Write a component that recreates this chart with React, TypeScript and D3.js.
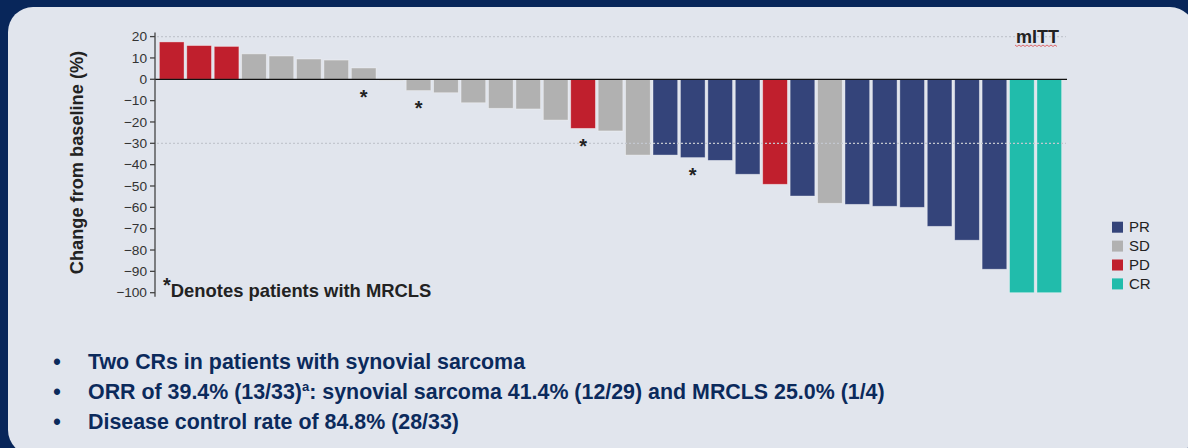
import React from 'react';
import * as d3 from 'd3';

const values = [17.5, 15.8, 15.4, 11.9, 10.9, 9.5, 9.0, 5.3, -0.5, -5.3, -6.3, -11.0, -13.6, -13.9, -19.1, -23.0, -24.2, -35.5, -35.5, -36.7, -38.0, -44.5, -49.2, -54.7, -58.1, -58.6, -59.5, -60.0, -68.9, -75.4, -89.0, -100, -100];
const responses = ['PD', 'PD', 'PD', 'SD', 'SD', 'SD', 'SD', 'SD', 'SD', 'SD', 'SD', 'SD', 'SD', 'SD', 'SD', 'PD', 'SD', 'SD', 'PR', 'PR', 'PR', 'PR', 'PD', 'PR', 'SD', 'PR', 'PR', 'PR', 'PR', 'PR', 'PR', 'CR', 'CR'];
const mrclsPatients = [8, 10, 16, 20];
const yTicks = [20, 10, 0, -10, -20, -30, -40, -50, -60, -70, -80, -90, -100];
const gridValues = [20, -30];
const legendKeys = ['PR', 'SD', 'PD', 'CR'];
const colors: Record<string, string> = { PR: '#34447a', SD: '#b1b1b1', PD: '#c01f2d', CR: '#21bcab' };
const bullets = [
  'Two CRs in patients with synovial sarcoma',
  'ORR of 39.4% (13/33)',
  'Disease control rate of 84.8% (28/33)',
];

const FONT = '"Liberation Sans", Arial, sans-serif';
const NAVY = '#0b2a5c';

export default function App() {
  const ids = values.map((_, i) => i + 1);
  const x = d3.scaleBand<number>().domain(ids).range([158, 1063]).paddingInner(0.1).paddingOuter(0.05);
  const y = d3.scaleLinear().domain([-100, 20]).range([292.7, 36.6]);
  const fmt = d3.format('d');

  return (
    <svg width={1188} height={448} style={{ position: 'absolute', left: 0, top: 0, display: 'block' }} fontFamily={FONT}>
      <rect x={0} y={0} width={1188} height={448} fill="#08265a" />
      <rect x={8} y={7} width={1187} height={448} rx={25} ry={25} fill="#e1e5ed" />

      {/* bars */}
      {values.map((v, i) => {
        const id = i + 1;
        const y0 = y(Math.max(0, v));
        const y1 = y(Math.min(0, v));
        return (
          <rect key={id} x={x(id)} y={y0} width={x.bandwidth()} height={Math.max(1, y1 - y0)}
            fill={colors[responses[i]]} stroke="rgba(255,255,255,0.45)" strokeWidth={0.8} />
        );
      })}

      {/* gridlines */}
      {gridValues.map((g) => (
        <line key={g} x1={157} x2={1066} y1={y(g)} y2={y(g)} stroke="#c3c7cf" strokeWidth={1.2} strokeDasharray="2,2" />
      ))}

      {/* zero line */}
      <line x1={155} x2={1067} y1={y(0)} y2={y(0)} stroke="#111" strokeWidth={1.3} />

      {/* y axis */}
      <line x1={155} x2={155} y1={y(20) - 4} y2={y(-100) + 4} stroke="#444" strokeWidth={1.3} />
      {yTicks.map((t) => (
        <g key={t}>
          <line x1={150} x2={155} y1={y(t)} y2={y(t)} stroke="#444" strokeWidth={1.3} />
          <text x={147} y={y(t)} dy="0.35em" textAnchor="end" fontSize={13.7} fill="#333">{fmt(t)}</text>
        </g>
      ))}
      <text transform={`translate(83,${162.5}) rotate(-90)`} textAnchor="middle" fontSize={18.2} fontWeight="bold" fill="#222">
        Change from baseline (%)
      </text>

      {/* asterisks */}
      {mrclsPatients.map((id) => {
        const v = values[id - 1];
        const cy = y(Math.min(0, v)) + 14;
        return (
          <text key={id} x={(x(id) || 0) + x.bandwidth() / 2} y={cy + 10.5} textAnchor="middle" fontSize={20} fontWeight="bold" fill="#222">*</text>
        );
      })}

      {/* footnote */}
      <text x={163} y={296.5} fontSize={18.4} fontWeight="bold" fill="#222">
        <tspan fontSize={20} dy={-5}>*</tspan>
        <tspan dy={5}>Denotes patients with MRCLS</tspan>
      </text>

      {/* mITT */}
      <text x={1059} y={43} textAnchor="end" fontSize={18} fontWeight="bold" fill="#222">mITT</text>
      <path d={d3.range(0, 22).map((k) => `${k === 0 ? 'M' : 'L'}${1015 + k * 2},${k % 2 === 0 ? 45 : 46.5}`).join(' ')}
        fill="none" stroke="#d33" strokeWidth={0.7} />

      {/* legend */}
      {legendKeys.map((k, i) => (
        <g key={k}>
          <rect x={1112} y={221.7 + i * 18.9} width={11} height={11} fill={colors[k]} />
          <text x={1129} y={221.7 + i * 18.9 + 10.3} fontSize={15} fill="#222">{k}</text>
        </g>
      ))}

      {/* bullets */}
      {bullets.map((b, i) => (
        <g key={i} fill={NAVY} fontSize={21.4} fontWeight="bold">
          <text x={57} y={369 + i * 30} textAnchor="middle">•</text>
          <text x={88} y={369 + i * 30}>
            {b}
            {i === 1 && (
              <>
                <tspan fontSize={13} dy={-8}>a</tspan>
                <tspan dy={8}>: synovial sarcoma 41.4% (12/29) and MRCLS 25.0% (1/4)</tspan>
              </>
            )}
          </text>
        </g>
      ))}
    </svg>
  );
}
